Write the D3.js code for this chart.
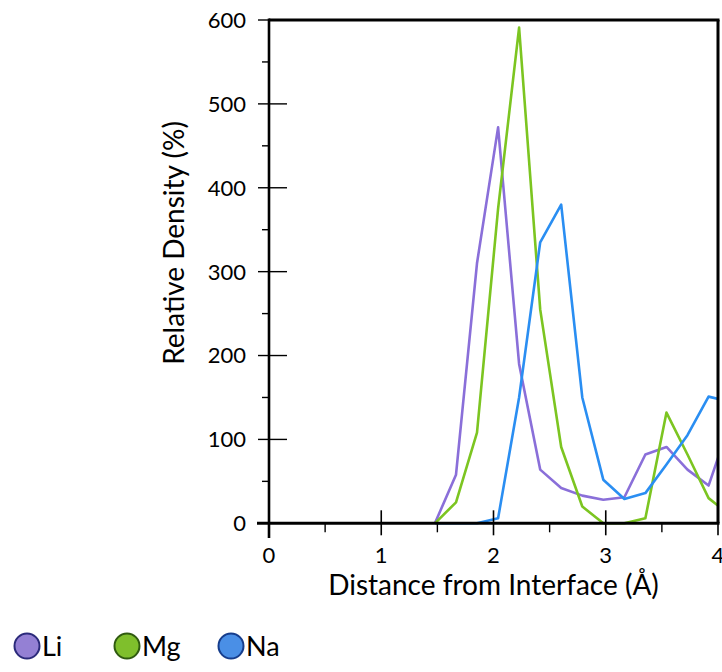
<!DOCTYPE html>
<html>
<head>
<meta charset="utf-8">
<script src="https://cdn.jsdelivr.net/npm/d3@7"></script>
<style>
  html, body { margin: 0; padding: 0; background: #ffffff; }
  svg { display: block; font-family: "Lato", "Open Sans", sans-serif; }
</style>
</head>
<body>
<svg id="chart" width="722" height="672"></svg>
<script>
// ---- data ----
const distance = [1.478, 1.666, 1.853, 2.041, 2.228, 2.416, 2.603, 2.791, 2.978, 3.166, 3.353, 3.541, 3.728, 3.916, 4.103];
const liValues = [0, 58, 310, 472, 190, 64, 42, 33, 28, 31, 82, 91, 64, 45, 118];
const mgValues = [0, 25, 108, 375, 591, 255, 91, 20, 0, 0, 6, 132, 82, 30, 10];
const naValues = [0, 0, 0, 6, 150, 335, 380, 150, 52, 29, 36, 70, 105, 151, 145];
const seriesNames = ["Li", "Mg", "Na"];
const xTickValues = [0, 1, 2, 3, 4];
const xMinorTicks = [0.5, 1.5, 2.5, 3.5];
const yTickValues = [0, 100, 200, 300, 400, 500, 600];
const yMinorTicks = [50, 150, 250, 350, 450, 550];
const xTitle = "Distance from Interface (Å)";
const yTitle = "Relative Density (%)";

const lineColors = { Li: "#8a6fd9", Mg: "#7cc521", Na: "#2a8ef2" };
const dotFill = { Li: "#9480d4", Mg: "#7fbf2c", Na: "#4a8fe6" };
const dotStroke = { Li: "#2b2a7a", Mg: "#2f5a10", Na: "#163d8c" };

const seriesData = {
  Li: distance.map((d, i) => ({ x: d, y: liValues[i] })),
  Mg: distance.map((d, i) => ({ x: d, y: mgValues[i] })),
  Na: distance.map((d, i) => ({ x: d, y: naValues[i] }))
};

// ---- layout ----
const svg = d3.select("#chart");
const pLeft = 269, pRight = 718, pTop = 20, pBottom = 523.3;

const x = d3.scaleLinear().domain([0, 4]).range([pLeft, pRight]);
const y = d3.scaleLinear().domain([0, 600]).range([pBottom, pTop]);

svg.append("defs").append("clipPath").attr("id", "plotclip")
  .append("rect").attr("x", pLeft).attr("y", pTop - 2).attr("width", pRight - pLeft).attr("height", pBottom - pTop + 4);

// lines
const line = d3.line().x(d => x(d.x)).y(d => y(d.y));
const g = svg.append("g").attr("clip-path", "url(#plotclip)");
seriesNames.forEach(name => {
  g.append("path")
    .datum(seriesData[name])
    .attr("fill", "none")
    .attr("stroke", lineColors[name])
    .attr("stroke-width", 2.6)
    .attr("stroke-linejoin", "round")
    .attr("d", line);
});

// frame (top and right)
svg.append("line").attr("x1", pLeft).attr("x2", pRight + 1.5).attr("y1", pTop).attr("y2", pTop)
  .attr("stroke", "#000").attr("stroke-width", 3);
svg.append("line").attr("x1", pRight).attr("x2", pRight).attr("y1", pTop).attr("y2", pBottom)
  .attr("stroke", "#000").attr("stroke-width", 3);

// x axis
const xAxisG = svg.append("g");
xAxisG.append("line").attr("x1", 257).attr("x2", pRight + 1.5).attr("y1", pBottom).attr("y2", pBottom)
  .attr("stroke", "#000").attr("stroke-width", 3);
xAxisG.selectAll(".xmaj").data(xTickValues).enter().append("line")
  .attr("x1", d => x(d)).attr("x2", d => x(d)).attr("y1", pBottom - 13).attr("y2", pBottom + 12)
  .attr("stroke", "#000").attr("stroke-width", 1.6);
xAxisG.selectAll(".xmin").data(xMinorTicks).enter().append("line")
  .attr("x1", d => x(d)).attr("x2", d => x(d)).attr("y1", pBottom).attr("y2", pBottom + 9)
  .attr("stroke", "#000").attr("stroke-width", 1.4);
xAxisG.selectAll(".xlab").data(xTickValues).enter().append("text")
  .attr("x", d => x(d)).attr("y", 563).attr("text-anchor", "middle")
  .attr("font-size", 22).attr("fill", "#000").text(d => d);
svg.append("text").attr("x", (pLeft + pRight) / 2).attr("y", 595).attr("text-anchor", "middle")
  .attr("font-size", 28).attr("fill", "#000").text(xTitle);

// y axis
const yAxisG = svg.append("g");
yAxisG.append("line").attr("x1", pLeft).attr("x2", pLeft).attr("y1", pTop - 1.5).attr("y2", 538)
  .attr("stroke", "#000").attr("stroke-width", 2.6);
yAxisG.selectAll(".ymaj").data(yTickValues).enter().append("line")
  .attr("x1", 258).attr("x2", 287).attr("y1", d => y(d)).attr("y2", d => y(d))
  .attr("stroke", "#000").attr("stroke-width", 1.4);
yAxisG.selectAll(".ymin").data(yMinorTicks).enter().append("line")
  .attr("x1", 262).attr("x2", pLeft).attr("y1", d => y(d)).attr("y2", d => y(d))
  .attr("stroke", "#000").attr("stroke-width", 1.4);
yAxisG.selectAll(".ylab").data(yTickValues).enter().append("text")
  .attr("x", 246).attr("y", d => y(d)).attr("dy", "0.36em").attr("text-anchor", "end")
  .attr("font-size", 22).attr("fill", "#000").text(d => d);
svg.append("text")
  .attr("transform", `translate(184, 243) rotate(-90)`)
  .attr("text-anchor", "middle").attr("font-size", 28).attr("fill", "#000").text(yTitle);

// legend
const legendX = [27, 127, 231];
const lg = svg.append("g").selectAll("g").data(seriesNames).enter().append("g")
  .attr("transform", (d, i) => `translate(${legendX[i]}, 646)`);
lg.append("circle").attr("r", 12.5).attr("fill", d => dotFill[d]).attr("stroke", d => dotStroke[d]).attr("stroke-width", 2);
lg.append("text").attr("x", 15).attr("y", 0).attr("dy", "0.36em").attr("font-size", 27).attr("fill", "#000").text(d => d);
</script>
</body>
</html>
